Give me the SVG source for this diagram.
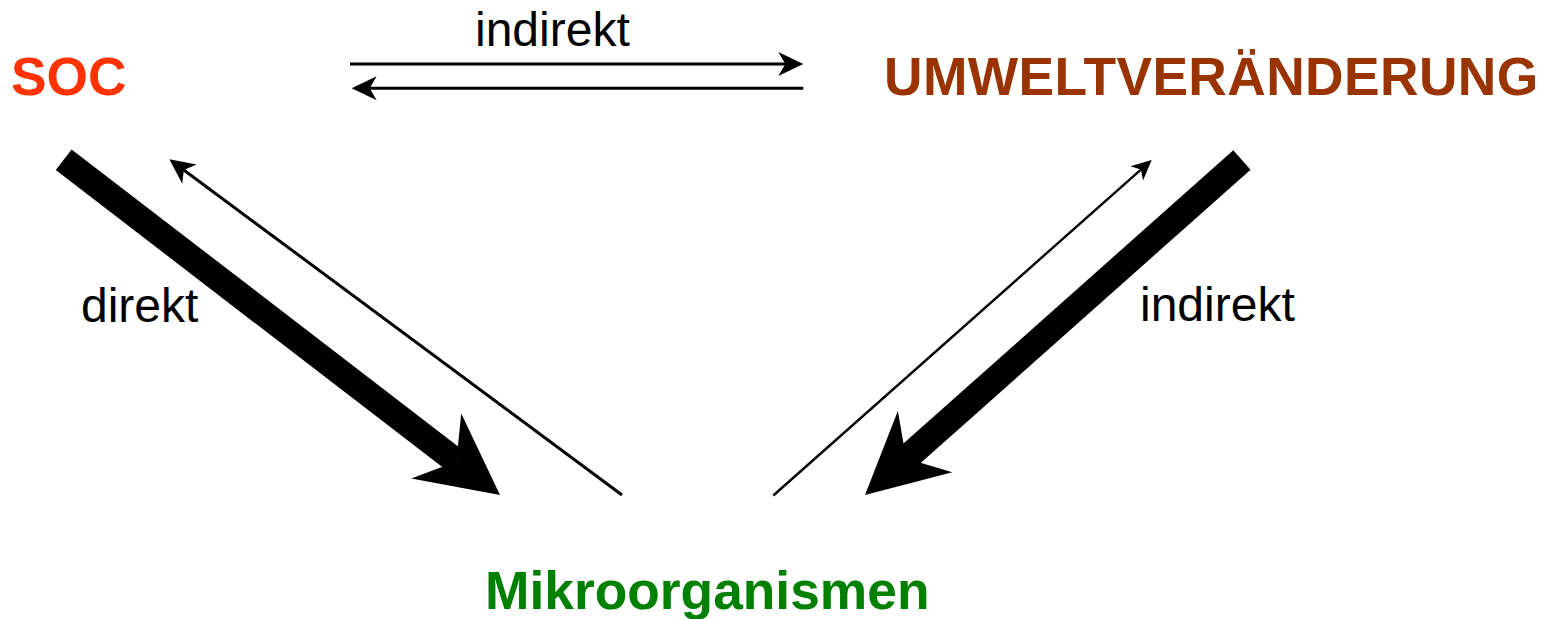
<svg xmlns="http://www.w3.org/2000/svg" width="1550" height="619" viewBox="0 0 1550 619">
<style>
.lbl{font-family:"Liberation Sans",Arial,sans-serif;font-size:48px;fill:#000}
.node{font-family:"Liberation Sans",Arial,sans-serif;font-size:53.33px;font-weight:bold}
.thin{fill:none;stroke:#000;marker-end:url(#hThin)}
.thick{fill:none;stroke:#000;stroke-width:26;marker-end:url(#hThick)}
</style>
<defs>
<marker id="hThin" orient="auto" overflow="visible" refX="0" refY="0" markerWidth="10" markerHeight="10">
<path d="M-2.33,-4 L6,0 L-2.33,4 L0,0 Z" fill="#000"/>
</marker>
<marker id="hThick" orient="auto" overflow="visible" refX="0" refY="0" markerWidth="5" markerHeight="5">
<path d="M-0.977,-1.577 L2.115,0 L-0.977,1.577 L0,0 Z" fill="#000"/>
</marker>
</defs>
<rect width="1550" height="619" fill="#fff"/>
<g id="connectors">
<line class="thin" x1="350" y1="64" x2="785.3" y2="64" stroke-width="3"/>
<line class="thin" x1="803.3" y1="88.3" x2="369.7" y2="88.3" stroke-width="3"/>
<line class="thick" x1="63.7" y1="159.7" x2="456.4" y2="461.5"/>
<line class="thin" x1="622" y1="495" x2="183.8" y2="170" stroke-width="3"/>
<line class="thick" x1="1241.9" y1="160" x2="906.1" y2="458.5"/>
<line class="thin" x1="773.3" y1="495.5" x2="1140.9" y2="169.6" stroke-width="2.4"/>
<text class="lbl" x="475" y="46">indirekt</text>
<text class="lbl" x="81" y="322">direkt</text>
<text class="lbl" x="1140" y="321">indirekt</text>
</g>
<g id="soc"><text class="node" x="11" y="95" fill="#FF3300">SOC</text></g>
<g id="umwelt"><text class="node" x="884" y="95" fill="#993300" letter-spacing="0.4">UMWELTVERÄNDERUNG</text></g>
<g id="mikro"><text class="node" x="485" y="609" fill="#008000">Mikroorganismen</text></g>
</svg>
